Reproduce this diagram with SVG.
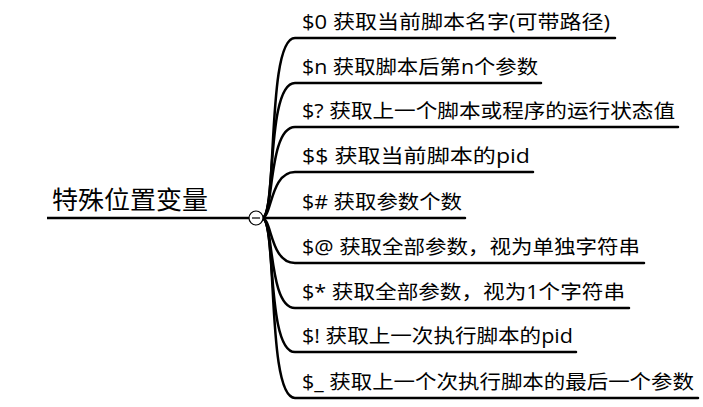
<svg xmlns="http://www.w3.org/2000/svg" width="703" height="407" viewBox="0 0 703 407">
<style>
text{font-family:"Open Sans","Noto Sans CJK SC",sans-serif;fill:#000}
.t{font-size:19.5px}
.c path{fill:none;stroke:#000;stroke-width:2.5;stroke-linecap:round}
</style>
<rect width="703" height="407" fill="#fff"/>
<g class="c" id="connectors">
<path d="M262,218 C278,218 266,38 295,38 H615"/>
<path d="M262,218 C276,218 266,83 295,83 H541"/>
<path d="M262,218 C274,218 268,127 295,127 H678"/>
<path d="M262,218 C272,218 270,172 295,172 H533"/>
<path d="M262,218 H465"/>
<path d="M262,218 C272,218 270,263 295,263 H644"/>
<path d="M262,218 C274,218 268,308 295,308 H629"/>
<path d="M262,218 C276,218 266,352 295,352 H576"/>
<path d="M262,218 C278,218 266,398 295,398 H698"/>
</g>
<g id="root">
<path d="M47,218 H250" stroke="#000" stroke-width="2.5"/>
<text x="52" y="209" font-size="25" textLength="156" lengthAdjust="spacingAndGlyphs">特殊位置变量</text>
<circle cx="256" cy="218" r="7" fill="#fff" stroke="#000" stroke-width="1.2"/>
<path d="M252,218 H260" stroke="#000" stroke-width="1.2"/>
</g>
<g id="n1"><text class="t" x="302" y="29" textLength="308" lengthAdjust="spacingAndGlyphs">$0  获取当前脚本名字(可带路径)</text></g>
<g id="n2"><text class="t" x="302" y="74" textLength="236" lengthAdjust="spacingAndGlyphs">$n 获取脚本后第n个参数</text></g>
<g id="n3"><text class="t" x="302" y="118" textLength="373" lengthAdjust="spacingAndGlyphs">$? 获取上一个脚本或程序的运行状态值</text></g>
<g id="n4"><text class="t" x="302" y="163" textLength="228" lengthAdjust="spacingAndGlyphs">$$ 获取当前脚本的pid</text></g>
<g id="n5"><text class="t" x="302" y="209" textLength="160" lengthAdjust="spacingAndGlyphs">$# 获取参数个数</text></g>
<g id="n6"><text class="t" x="302" y="254" textLength="338" lengthAdjust="spacingAndGlyphs">$@ 获取全部参数，视为单独字符串</text></g>
<g id="n7"><text class="t" x="302" y="299" textLength="323" lengthAdjust="spacingAndGlyphs">$* 获取全部参数，视为1个字符串</text></g>
<g id="n8"><text class="t" x="302" y="343" textLength="271" lengthAdjust="spacingAndGlyphs">$! 获取上一次执行脚本的pid</text></g>
<g id="n9"><text class="t" x="302" y="389" textLength="392" lengthAdjust="spacingAndGlyphs">$_ 获取上一个次执行脚本的最后一个参数</text></g>
</svg>
